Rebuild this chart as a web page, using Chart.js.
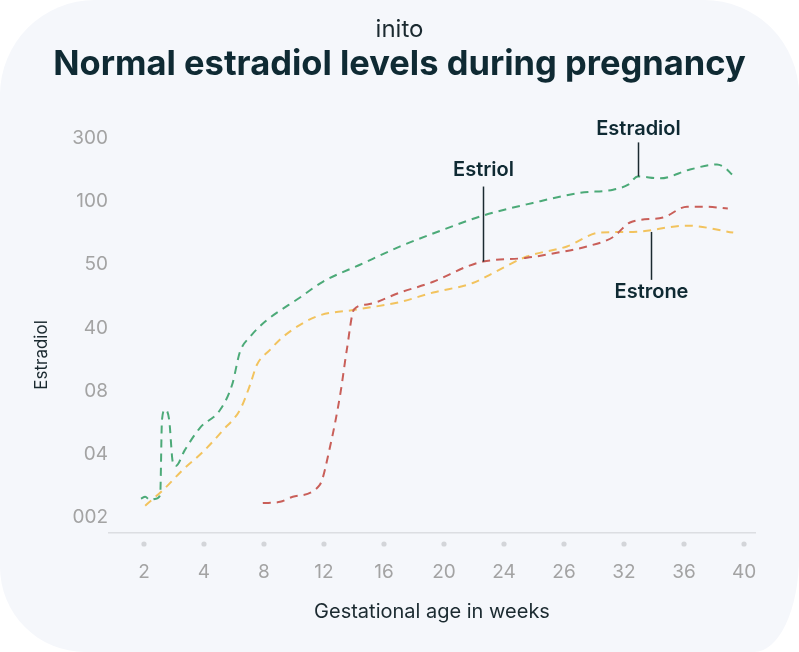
<!DOCTYPE html>
<html>
<head>
<meta charset="utf-8">
<script src="https://cdn.jsdelivr.net/npm/chart.js@4.4.1/dist/chart.umd.min.js"></script>
<style>
  html, body { margin: 0; padding: 0; background: #ffffff; }
  #card { position: absolute; left: 0; top: 0; width: 799px; height: 652px;
          background: #f5f7fb; border-radius: 95px 95px 45px 85px / 95px 95px 95px 85px; }
  #wrap { position: absolute; left: 0; top: 0; width: 799px; height: 652px; }
</style>
</head>
<body>
<div id="card"></div>
<div id="wrap"><canvas id="c" width="799" height="652"></canvas></div>
<script>
// Axis tick labels (equally spaced slots, as in the reference)
const xLabels = ['2', '4', '8', '12', '16', '20', '24', '26', '32', '36', '40'];
const yLabels = ['002', '04', '08', '40', '50', '100', '300'];
const xTitle = 'Gestational age in weeks';
const yTitle = 'Estradiol';

// Series: x = position along the week slots, y = position along the level slots
const estradiolX = [-0.05, 0.02, 0.1, 0.2, 0.27, 0.3, 0.35, 0.42, 0.48, 0.53, 0.68, 0.93, 1.27, 1.47, 1.6, 1.77, 2.02, 2.6, 2.98, 3.6, 4.27, 5.0, 5.65, 6.48, 7.27, 7.82, 8.07, 8.23, 8.6, 9.1, 9.55, 9.68, 9.8];
const estradiolY = [0.29, 0.32, 0.27, 0.29, 0.35, 1.54, 1.70, 1.54, 0.87, 0.81, 1.06, 1.41, 1.70, 2.10, 2.62, 2.86, 3.10, 3.48, 3.73, 4.0, 4.29, 4.56, 4.78, 4.98, 5.14, 5.19, 5.27, 5.40, 5.37, 5.51, 5.59, 5.54, 5.43];

const estriolX = [1.98, 2.27, 2.48, 2.93, 3.1, 3.27, 3.38, 3.5, 3.72, 4.27, 4.82, 5.38, 5.65, 6.38, 6.88, 7.38, 7.82, 8.1, 8.65, 9.05, 9.35, 9.73];
const estriolY = [0.22, 0.24, 0.32, 0.51, 1.11, 1.94, 2.65, 3.29, 3.37, 3.56, 3.73, 3.97, 4.05, 4.11, 4.19, 4.29, 4.44, 4.67, 4.75, 4.92, 4.92, 4.89];

const estroneX = [0.02, 0.32, 0.65, 0.98, 1.32, 1.6, 1.77, 1.88, 2.1, 2.32, 2.88, 3.55, 4.27, 4.82, 5.48, 5.82, 6.38, 7.05, 7.6, 8.15, 9.05, 9.82];
const estroneY = [0.18, 0.43, 0.75, 1.03, 1.38, 1.70, 2.10, 2.41, 2.65, 2.86, 3.18, 3.29, 3.41, 3.56, 3.71, 3.87, 4.13, 4.29, 4.51, 4.52, 4.62, 4.51];

// Callout labels: anchor on the curve and end of the leader line (in slot units)
const calloutNames = ['Estradiol', 'Estriol', 'Estrone'];
const calloutAnchorX = [8.23, 5.65, 8.45];
const calloutAnchorY = [5.40, 4.05, 4.52];
const calloutEndY = [5.94, 5.24, 3.76];
const calloutTextY = [6.16, 5.51, 3.56];

const COLORS = { estradiol: '#4caa78', estriol: '#c95f59', estrone: '#f2c35e' };
const FONT = "Inter, 'Open Sans', 'DejaVu Sans', sans-serif";

function pts(xs, ys) { return xs.map((x, i) => ({ x: x, y: ys[i] })); }

const axisDots = {
  id: 'axisDots',
  afterDraw(chart) {
    const ctx = chart.ctx, xs = chart.scales.x, ca = chart.chartArea;
    ctx.save();
    ctx.fillStyle = '#d3d5d9';
    xs.ticks.forEach(t => {
      const px = xs.getPixelForValue(t.value);
      ctx.beginPath();
      ctx.arc(px, ca.bottom + 11, 2.6, 0, Math.PI * 2);
      ctx.fill();
    });
    ctx.restore();
  }
};

const yAxisTitle = {
  id: 'yAxisTitle',
  afterDraw(chart) {
    const ctx = chart.ctx;
    ctx.save();
    ctx.translate(42, 355);
    ctx.rotate(-Math.PI / 2);
    ctx.fillStyle = '#1b2a30';
    ctx.font = "17px " + FONT;
    ctx.textAlign = 'center';
    ctx.textBaseline = 'middle';
    ctx.fillText(yTitle, 0, 0);
    ctx.restore();
  }
};

const callouts = {
  id: 'callouts',
  afterDatasetsDraw(chart) {
    const ctx = chart.ctx, xs = chart.scales.x, ys = chart.scales.y;
    ctx.save();
    ctx.strokeStyle = '#1b2a30';
    ctx.lineWidth = 1.5;
    ctx.fillStyle = '#0f2a33';
    ctx.font = "600 20px " + FONT;
    ctx.textAlign = 'center';
    ctx.textBaseline = 'middle';
    calloutNames.forEach((name, i) => {
      const px = Math.round(xs.getPixelForValue(calloutAnchorX[i])) + 0.5;
      const y1 = ys.getPixelForValue(calloutAnchorY[i]);
      const y2 = ys.getPixelForValue(calloutEndY[i]);
      ctx.beginPath();
      ctx.moveTo(px, y1);
      ctx.lineTo(px, y2);
      ctx.stroke();
      ctx.fillText(name, px, ys.getPixelForValue(calloutTextY[i]));
    });
    ctx.restore();
  }
};

const lineStyle = (label, color, data) => ({
  label: label,
  data: data,
  borderColor: color,
  backgroundColor: color,
  borderWidth: 2,
  borderDash: [8, 6],
  pointRadius: 0,
  fill: false,
  cubicInterpolationMode: 'monotone'
});

new Chart(document.getElementById('c'), {
  type: 'line',
  data: {
    datasets: [
      lineStyle('Estradiol', COLORS.estradiol, pts(estradiolX, estradiolY)),
      lineStyle('Estriol', COLORS.estriol, pts(estriolX, estriolY)),
      lineStyle('Estrone', COLORS.estrone, pts(estroneX, estroneY))
    ]
  },
  options: {
    responsive: false,
    animation: false,
    layout: { padding: { left: 0, right: 0, top: 0, bottom: 0 } },
    plugins: {
      legend: { display: false },
      tooltip: { enabled: false },
      title: {
        display: true,
        text: 'inito',
        color: '#1b2a30',
        font: { family: FONT, size: 24, weight: '400' },
        padding: { top: 15, bottom: 0 }
      },
      subtitle: {
        display: true,
        text: 'Normal estradiol levels during pregnancy',
        color: '#0f2a33',
        font: { family: FONT, size: 34.5, weight: 'bold' },
        padding: { top: 0, bottom: 24.4 }
      }
    },
    scales: {
      x: {
        type: 'linear',
        min: -0.583,
        max: 10.183,
        afterFit(scale) { scale.height = 119; },
        afterBuildTicks(scale) { scale.ticks = xLabels.map((_, i) => ({ value: i })); },
        grid: { display: false, drawTicks: false },
        border: { display: true, color: '#dcdee2', width: 1.5 },
        ticks: {
          padding: 28,
          color: '#a3a3a3',
          font: { family: FONT, size: 19 },
          callback: (v) => xLabels[v]
        },
        title: {
          display: true,
          text: xTitle,
          color: '#1b2a30',
          font: { family: FONT, size: 20 },
          padding: { top: 0, bottom: 28 }
        }
      },
      y: {
        type: 'linear',
        min: -0.254,
        max: 6.46,
        afterFit(scale) { scale.width = 109; },
        afterBuildTicks(scale) { scale.ticks = yLabels.map((_, i) => ({ value: i })); },
        grid: { display: false, drawTicks: false },
        border: { display: false },
        ticks: {
          padding: 1,
          color: '#a3a3a3',
          font: { family: FONT, size: 19 },
          callback: (v) => yLabels[v]
        },
        title: { display: false }
      },
      yRightSpace: {
        type: 'linear',
        position: 'right',
        afterFit(scale) { scale.width = 44; },
        grid: { display: false, drawTicks: false },
        border: { display: false },
        ticks: { display: false },
        title: { display: false }
      }
    }
  },
  plugins: [axisDots, callouts, yAxisTitle]
});
</script>
</body>
</html>
